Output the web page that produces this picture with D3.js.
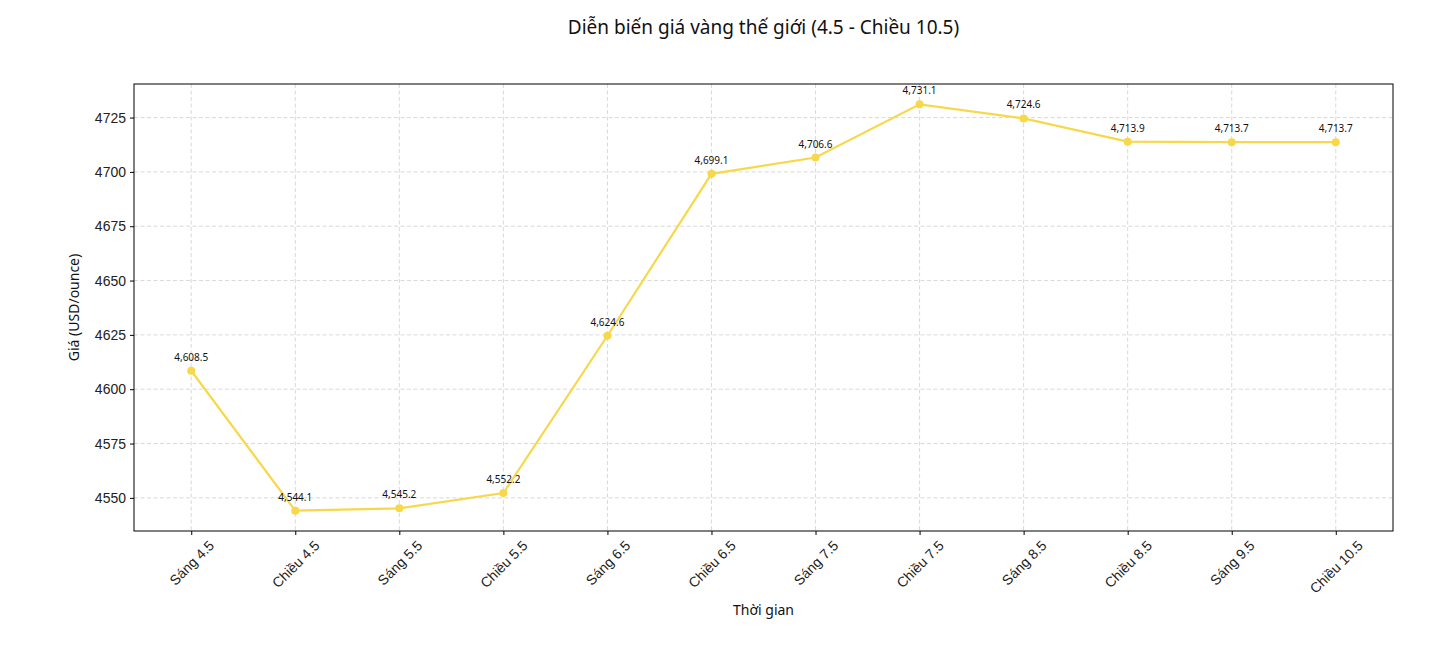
<!DOCTYPE html>
<html>
<head>
    <title>Gold price</title>
    <meta charset="utf-8">
    <script src="https://cdn.jsdelivr.net/npm/d3@7/dist/d3.min.js"></script>
    <style>
        body { margin: 0; background: #fff; }
        svg { font-family: "Noto Sans", "Open Sans", sans-serif; }
        .grid line { stroke: #cfcfcf; stroke-dasharray: 4,2.5; stroke-width: 0.8px; }
        .tick text { fill: #222; }
    </style>
</head>
<body>
<svg id="chart"></svg>
<script>
// data area
var categories = ["Sáng 4.5", "Chiều 4.5", "Sáng 5.5", "Chiều 5.5", "Sáng 6.5", "Chiều 6.5",
                  "Sáng 7.5", "Chiều 7.5", "Sáng 8.5", "Chiều 8.5", "Sáng 9.5", "Chiều 10.5"];
var prices = [4608.5, 4544.1, 4545.2, 4552.2, 4624.6, 4699.1, 4706.6, 4731.1, 4724.6, 4713.9, 4713.7, 4713.7];
var yTicks = [4550, 4575, 4600, 4625, 4650, 4675, 4700, 4725];

var W = 1442, H = 646;
var pLeft = 134, pRight = 1393, pTop = 84, pBottom = 531;
var lineColor = "#f7d84a";

var svg = d3.select("#chart").attr("width", W).attr("height", H);

// matplotlib-like 5% margins
var n = categories.length;
var xPad = (n - 1) * 0.05;
var x = d3.scaleLinear().domain([-xPad, n - 1 + xPad]).range([pLeft, pRight]);
var minV = d3.min(prices), maxV = d3.max(prices), yPad = (maxV - minV) * 0.05;
var y = d3.scaleLinear().domain([minV - yPad, maxV + yPad]).range([pBottom, pTop]);

// grid
var grid = svg.append("g").attr("class", "grid");
grid.selectAll(".gx").data(d3.range(n)).enter().append("line")
    .attr("x1", function (d) { return x(d); }).attr("x2", function (d) { return x(d); })
    .attr("y1", pTop).attr("y2", pBottom);
grid.selectAll(".gy").data(yTicks).enter().append("line")
    .attr("y1", function (d) { return y(d); }).attr("y2", function (d) { return y(d); })
    .attr("x1", pLeft).attr("x2", pRight);

// y axis
var yAxis = svg.append("g").attr("transform", "translate(" + pLeft + ",0)")
    .call(d3.axisLeft(y).tickValues(yTicks).tickFormat(d3.format("d")).tickSize(4).tickPadding(4));
yAxis.select(".domain").remove();
yAxis.selectAll("text").style("font-size", "14px");

// x axis, rotated labels centered on tick
var xAxis = svg.append("g").attr("transform", "translate(0," + pBottom + ")")
    .call(d3.axisBottom(x).tickValues(d3.range(n)).tickFormat(function (i) { return categories[i]; }).tickSize(4));
xAxis.select(".domain").remove();
xAxis.selectAll("text")
    .style("font-size", "14px")
    .attr("y", 0).attr("dy", null)
    .attr("text-anchor", "middle")
    .attr("dominant-baseline", "central")
    .each(function () {
        var w = this.getComputedTextLength(), h = 14;
        var c = Math.SQRT1_2;
        var bh = w * c + h * c;
        d3.select(this).attr("transform", "translate(0," + (7 + bh / 2) + ") rotate(-45)");
    });

// frame
svg.append("rect").attr("x", pLeft).attr("y", pTop)
    .attr("width", pRight - pLeft).attr("height", pBottom - pTop)
    .attr("fill", "none").attr("stroke", "#000").attr("stroke-width", 1);

// line + markers
var line = d3.line().x(function (d, i) { return x(i); }).y(function (d) { return y(d); });
svg.append("path").datum(prices).attr("d", line)
    .attr("fill", "none").attr("stroke", lineColor).attr("stroke-width", 2.2);
svg.selectAll(".dot").data(prices).enter().append("circle")
    .attr("cx", function (d, i) { return x(i); }).attr("cy", function (d) { return y(d); })
    .attr("r", 4).attr("fill", lineColor);

// value labels
var fmt = d3.format(",.1f");
svg.selectAll(".lbl").data(prices).enter().append("text")
    .attr("x", function (d, i) { return x(i); })
    .attr("y", function (d) { return y(d) - 10; })
    .attr("text-anchor", "middle")
    .style("font-size", "10px").attr("fill", "#111")
    .text(function (d) { return fmt(d); });

// titles
svg.append("text").attr("x", (pLeft + pRight) / 2).attr("y", 34)
    .attr("text-anchor", "middle").style("font-size", "19px").attr("fill", "#111")
    .text("Diễn biến giá vàng thế giới (4.5 - Chiều 10.5)");
svg.append("text").attr("x", (pLeft + pRight) / 2).attr("y", 615)
    .attr("text-anchor", "middle").style("font-size", "14px").attr("fill", "#111")
    .text("Thời gian");
svg.append("text").attr("transform", "translate(79," + ((pTop + pBottom) / 2) + ") rotate(-90)")
    .attr("text-anchor", "middle").style("font-size", "14px").attr("fill", "#111")
    .text("Giá (USD/ounce)");
</script>
</body>
</html>
